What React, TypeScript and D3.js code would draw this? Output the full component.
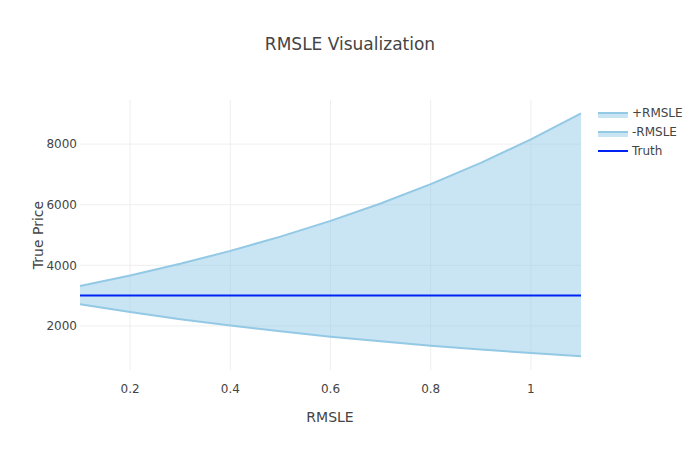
import React from "react";
import * as d3 from "d3";

const rmsle = [0.1, 0.2, 0.3, 0.4, 0.5, 0.6, 0.7, 0.8, 0.9, 1.0, 1.1];
const plusRmsle = [3316, 3664, 4050, 4475, 4946, 5466, 6041, 6677, 7379, 8155, 9013];
const minusRmsle = [2715, 2456, 2222, 2011, 1820, 1646, 1490, 1348, 1220, 1104, 999];
const truth = [3000, 3000, 3000, 3000, 3000, 3000, 3000, 3000, 3000, 3000, 3000];
const xTicks = [0.2, 0.4, 0.6, 0.8, 1];
const yTicks = [2000, 4000, 6000, 8000];
const legendLabels = ["+RMSLE", "-RMSLE", "Truth"];

const W = 700, H = 450;
const L = 80, R = 581, T = 100, B = 370;
const font = "'DejaVu Sans', verdana, arial, sans-serif";
const bandLine = "#93c9e5";
const bandFill = "rgba(147,201,229,0.5)";
const truthColor = "rgb(0,35,245)";

export default function App() {
  const x = d3.scaleLinear().domain([0.1, 1.1]).range([L, R]);
  const y = d3.scaleLinear().domain([545, 9455]).range([B, T]);
  const idx = rmsle.map((_, i) => i);
  const line = (vals: number[]) =>
    d3.line<number>().x((i) => x(rmsle[i])).y((i) => y(vals[i]))(idx) || "";
  const area =
    d3
      .area<number>()
      .x((i) => x(rmsle[i]))
      .y0((i) => y(minusRmsle[i]))
      .y1((i) => y(plusRmsle[i]))(idx) || "";

  return (
    <svg width={W} height={H} style={{ display: "block", position: "absolute", left: 0, top: 0 }} fontFamily={font}>
      <rect width={W} height={H} fill="#fff" />
      <g stroke="#eee" strokeWidth={1}>
        {xTicks.map((t) => (
          <line key={"gx" + t} x1={x(t)} x2={x(t)} y1={T} y2={B} />
        ))}
        {yTicks.map((t) => (
          <line key={"gy" + t} x1={L} x2={R} y1={y(t)} y2={y(t)} />
        ))}
      </g>
      <path d={area} fill={bandFill} stroke="none" />
      <path d={line(plusRmsle)} fill="none" stroke={bandLine} strokeWidth={2} />
      <path d={line(minusRmsle)} fill="none" stroke={bandLine} strokeWidth={2} />
      <path d={line(truth)} fill="none" stroke={truthColor} strokeWidth={2} />
      <g fontSize={12} fill="#444">
        {xTicks.map((t) => (
          <text key={"tx" + t} x={x(t)} y={B + 14} dy="0.71em" textAnchor="middle">
            {d3.format("")(t)}
          </text>
        ))}
        {yTicks.map((t) => (
          <text key={"ty" + t} x={L - 3} y={y(t)} dy="0.35em" textAnchor="end">
            {t}
          </text>
        ))}
      </g>
      <text x={350} y={50} textAnchor="middle" fontSize={17} fill="#444">
        RMSLE Visualization
      </text>
      <text x={330} y={422} textAnchor="middle" fontSize={14} fill="#444">
        RMSLE
      </text>
      <text transform={`translate(43,235) rotate(-90)`} textAnchor="middle" fontSize={14} fill="#444">
        True Price
      </text>
      <g fontSize={12} fill="#444">
        {legendLabels.map((lab, i) => {
          const yy = 113 + i * 19;
          return (
            <g key={lab}>
              {i < 2 ? (
                <>
                  <rect x={598} y={yy - 1} width={30} height={6} fill={bandFill} />
                  <line x1={598} x2={628} y1={yy} y2={yy} stroke={bandLine} strokeWidth={2} />
                </>
              ) : (
                <line x1={598} x2={628} y1={yy} y2={yy} stroke={truthColor} strokeWidth={2} />
              )}
              <text x={632} y={yy} dy="0.35em">
                {lab}
              </text>
            </g>
          );
        })}
      </g>
    </svg>
  );
}
